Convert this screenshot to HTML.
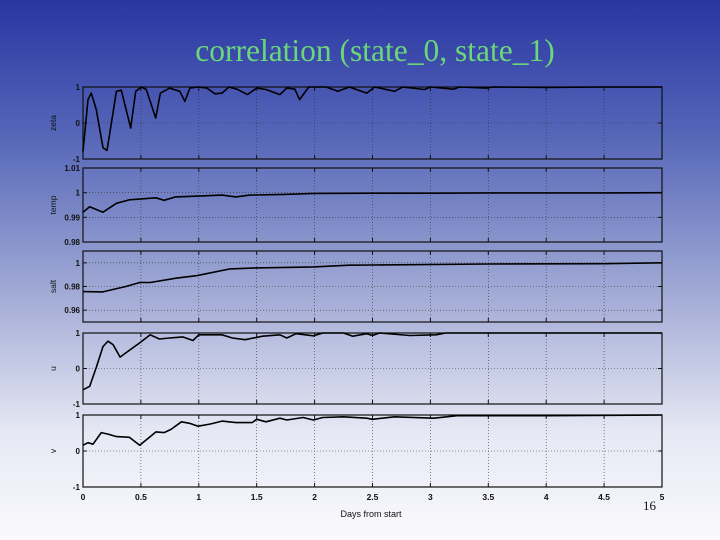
<!DOCTYPE html>
<html><head><meta charset="utf-8"><style>
html,body{margin:0;padding:0}
body{width:720px;height:540px;overflow:hidden;background:linear-gradient(to bottom,#2a35a2 0%,#5566b8 25%,#a3acd6 55%,#e6e8f4 80%,#fafafd 100%)}
svg{display:block}
</style></head><body>
<svg id="chart" width="720" height="540" viewBox="0 0 720 540">
<text x="375" y="61" text-anchor="middle" font-family="Liberation Serif, serif" font-size="31.5" fill="#6ad87a">correlation (state_0, state_1)</text>
<text x="371" y="517" text-anchor="middle" font-family="Liberation Sans, sans-serif" font-size="9" fill="#111">Days from start</text>
<text x="643" y="510" font-family="Liberation Serif, serif" font-size="13" fill="#111">16</text>
<g id="panels"></g>
</svg>
<script>
const xTicks=[0,0.5,1,1.5,2,2.5,3,3.5,4,4.5,5];
const xTickLabels=["0","0.5","1","1.5","2","2.5","3","3.5","4","4.5","5"];
const zetaX=[0,.043,.072,.115,.173,.207,.245,.288,.331,.412,.455,.504,.547,.628,.668,.749,.836,.88,.922,.994,1.07,1.14,1.2,1.26,1.33,1.42,1.5,1.58,1.7,1.76,1.83,1.87,1.95,2.1,2.2,2.3,2.45,2.52,2.69,2.76,2.95,3.0,3.2,3.25,3.48,3.54,4.0,4.5,5];
const zetaY=[-.79,.65,.83,.37,-.69,-.76,0,.88,.91,-.14,.88,1,.93,.14,.83,.97,.88,.6,.97,1,.97,.81,.83,1,.94,.79,.97,.93,.79,.97,.94,.65,1,1,.88,1,.83,1,.88,1,.93,1,.94,1,.97,1,.99,1,1];
const tempX=[0,.057,.173,.288,.4,.49,.63,.7,.8,1,1.2,1.32,1.44,1.73,2,2.5,3,3.5,4,4.5,5];
const tempY=[.9921,.9943,.9921,.9957,.9971,.9974,.9979,.9969,.9983,.9986,.999,.9983,.999,.9993,.9997,.9998,.9998,.9999,.9999,.9999,1.0];
const saltX=[0,.17,.37,.49,.58,.81,.98,1.27,1.5,1.99,2.3,2.5,3.5,4.5,5];
const saltY=[.9757,.9754,.98,.9834,.9834,.9871,.9891,.9949,.9957,.9966,.998,.9982,.999,.9993,1.0];
const uX=[0,.058,.115,.173,.216,.26,.32,.37,.49,.58,.66,.75,.86,.95,1.0,1.2,1.29,1.4,1.55,1.7,1.76,1.84,1.99,2.07,2.25,2.33,2.45,2.5,2.56,2.82,3.05,3.13,4,5];
const uY=[-.6,-.5,.03,.62,.77,.67,.32,.44,.72,.95,.83,.86,.89,.79,.95,.95,.86,.81,.91,.95,.86,.98,.92,1,1,.91,.98,.93,1,.93,.95,1,1,1];
const vX=[0,.043,.086,.158,.216,.29,.4,.49,.58,.63,.7,.76,.85,.92,.994,1.1,1.2,1.32,1.46,1.5,1.58,1.7,1.76,1.9,1.99,2.07,2.25,2.45,2.5,2.69,3.03,3.23,4,5];
const vY=[.16,.23,.19,.51,.47,.4,.38,.16,.4,.53,.51,.6,.81,.77,.69,.75,.83,.79,.79,.88,.81,.91,.86,.93,.86,.93,.95,.91,.88,.95,.91,.98,.98,1];
const panelNames=["zeta","temp","salt","u","v"];
const panelLabels=["zeta","temp","salt","u","v"];
const panelDomains=[[-1,1],[0.98,1.01],[0.95,1.01],[-1,1],[-1,1]];
const panelTicks=[[-1,0,1],[0.98,0.99,1,1.01],[0.96,0.98,1],[-1,0,1],[-1,0,1]];
const panelTickLabels=[["-1","0","1"],["0.98","0.99","1","1.01"],["0.96","0.98","1"],["-1","0","1"],["-1","0","1"]];
const seriesX=[zetaX,tempX,saltX,uX,vX];
const seriesY=[zetaY,tempY,saltY,uY,vY];
const layout=[[87,159],[168,242],[251,322],[333,404],[415,487]];
const X0=83,X1=662;
const NS="http://www.w3.org/2000/svg";
const g=document.getElementById('panels');
function xs(v){return X0+(v-0)/(5-0)*(X1-X0);}
function mk(t,a,p){const e=document.createElementNS(NS,t);for(const k in a)e.setAttribute(k,a[k]);(p||g).appendChild(e);return e;}
panelNames.forEach((nm,i)=>{
  const [top,bot]=layout[i],[d0,d1]=panelDomains[i];
  const ys=v=>bot-(v-d0)/(d1-d0)*(bot-top);
  const pg=mk('g',{});
  
  
  xTicks.forEach(t=>{
    const l=mk('line',{x1:xs(t),x2:xs(t),y1:top,y2:bot,stroke:'#333','stroke-width':0.6,'stroke-dasharray':'1,2'},pg);
    
    
    mk('line',{x1:xs(t),x2:xs(t),y1:top,y2:top+4,stroke:'#111','stroke-width':1},pg);
    mk('line',{x1:xs(t),x2:xs(t),y1:bot,y2:bot-4,stroke:'#111','stroke-width':1},pg);
  });
  panelTicks[i].forEach((t,j)=>{
    const y=ys(t);
    const l=mk('line',{x1:X0,x2:X1,y1:y,y2:y,stroke:'#333','stroke-width':0.6,'stroke-dasharray':'1,2'},pg);
    
    
    mk('line',{x1:X0,x2:X0+4,y1:y,y2:y,stroke:'#111'},pg);
    mk('line',{x1:X1,x2:X1-4,y1:y,y2:y,stroke:'#111'},pg);
    const tx=mk('text',{x:X0-3,y:y+3,'text-anchor':'end','font-family':'Liberation Sans, sans-serif','font-size':8,'font-weight':'bold',fill:'#111'},pg);
    
    
    tx.textContent=panelTickLabels[i][j];
  });
  const fr=mk('rect',{x:X0,y:top,width:X1-X0,height:bot-top,fill:'none',stroke:'#111','stroke-width':1.2},pg);
  
  
  const yl=mk('text',{x:0,y:0,transform:`translate(56,${(top+bot)/2}) rotate(-90)`,'text-anchor':'middle','font-family':'Liberation Sans, sans-serif','font-size':8.5,fill:'#111'},pg);
  
  
  yl.textContent=panelLabels[i];
  const pts=seriesX[i].map((x,k)=>xs(x).toFixed(1)+','+ys(seriesY[i][k]).toFixed(1)).join(' ');
  const pl=mk('polyline',{points:pts,fill:'none',stroke:'#000','stroke-width':1.6,'stroke-linejoin':'round'},pg);
  
  
});
xTicks.forEach((t,j)=>{
  const tx=mk('text',{x:xs(t),y:500,'text-anchor':'middle','font-family':'Liberation Sans, sans-serif','font-size':8.5,'font-weight':'bold',fill:'#111'});
  
  
  tx.textContent=xTickLabels[j];
});
</script>
</body></html>
